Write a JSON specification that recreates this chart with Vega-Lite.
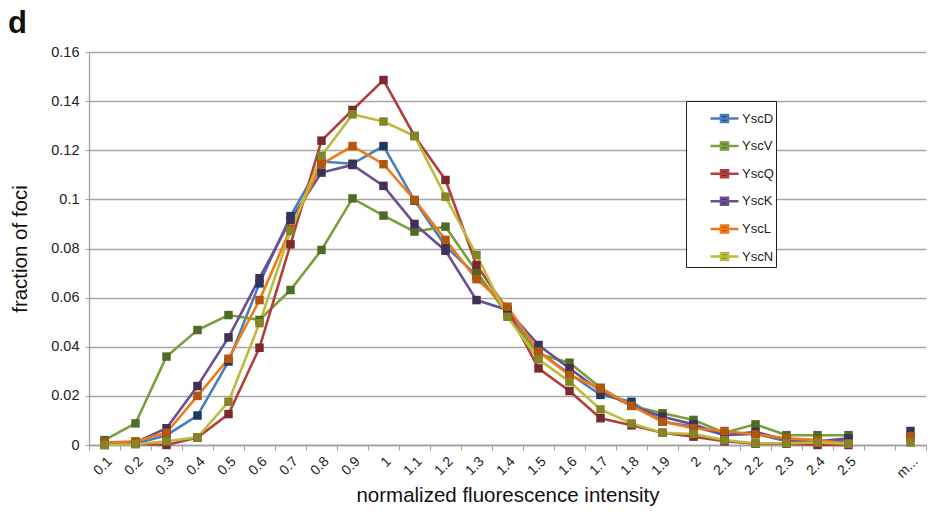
{
  "$schema": "https://vega.github.io/schema/vega-lite/v6.json",
  "width": 837,
  "height": 393,
  "autosize": {"type": "none"},
  "padding": {"left": 89, "top": 52, "right": 7, "bottom": 71},
  "background": "white",
  "title": {"text": "d", "anchor": "start", "frame": "group", "dx": -81, "dy": 37, "offset": 17, "baseline": "alphabetic", "fontSize": 31, "fontWeight": "bold", "font": "Liberation Sans", "color": "#111"},
  "config": {
    "view": {"stroke": null},
    "font": "Liberation Sans",
    "legend": {"orient": "none", "legendX": 597, "legendY": 49, "strokeColor": "#222", "fillColor": "#ffffff", "padding": 2, "labelFontSize": 13, "labelColor": "#222", "rowPadding": 3.6, "symbolOffset": 21, "labelOffset": 2}
  },
  "data": {"values": [
    {"x":"0.1","s":"YscD","y":0.0005},{"x":"0.1","s":"YscV","y":0.002},{"x":"0.1","s":"YscQ","y":0.0},{"x":"0.1","s":"YscK","y":0.0008},{"x":"0.1","s":"YscL","y":0.001},{"x":"0.1","s":"YscN","y":0.0},
    {"x":"0.2","s":"YscD","y":0.0005},{"x":"0.2","s":"YscV","y":0.0088},{"x":"0.2","s":"YscQ","y":0.0005},{"x":"0.2","s":"YscK","y":0.001},{"x":"0.2","s":"YscL","y":0.0015},{"x":"0.2","s":"YscN","y":0.0003},
    {"x":"0.3","s":"YscD","y":0.004},{"x":"0.3","s":"YscV","y":0.036},{"x":"0.3","s":"YscQ","y":0.0},{"x":"0.3","s":"YscK","y":0.0068},{"x":"0.3","s":"YscL","y":0.005},{"x":"0.3","s":"YscN","y":0.0015},
    {"x":"0.4","s":"YscD","y":0.012},{"x":"0.4","s":"YscV","y":0.0468},{"x":"0.4","s":"YscQ","y":0.003},{"x":"0.4","s":"YscK","y":0.024},{"x":"0.4","s":"YscL","y":0.02},{"x":"0.4","s":"YscN","y":0.0031},
    {"x":"0.5","s":"YscD","y":0.034},{"x":"0.5","s":"YscV","y":0.0529},{"x":"0.5","s":"YscQ","y":0.0126},{"x":"0.5","s":"YscK","y":0.0438},{"x":"0.5","s":"YscL","y":0.0351},{"x":"0.5","s":"YscN","y":0.0176},
    {"x":"0.6","s":"YscD","y":0.0658},{"x":"0.6","s":"YscV","y":0.0509},{"x":"0.6","s":"YscQ","y":0.0396},{"x":"0.6","s":"YscK","y":0.0679},{"x":"0.6","s":"YscL","y":0.059},{"x":"0.6","s":"YscN","y":0.0496},
    {"x":"0.7","s":"YscD","y":0.0932},{"x":"0.7","s":"YscV","y":0.0631},{"x":"0.7","s":"YscQ","y":0.0817},{"x":"0.7","s":"YscK","y":0.0916},{"x":"0.7","s":"YscL","y":0.088},{"x":"0.7","s":"YscN","y":0.0871},
    {"x":"0.8","s":"YscD","y":0.1154},{"x":"0.8","s":"YscV","y":0.0794},{"x":"0.8","s":"YscQ","y":0.1239},{"x":"0.8","s":"YscK","y":0.1109},{"x":"0.8","s":"YscL","y":0.1143},{"x":"0.8","s":"YscN","y":0.1177},
    {"x":"0.9","s":"YscD","y":0.1145},{"x":"0.9","s":"YscV","y":0.1004},{"x":"0.9","s":"YscQ","y":0.1364},{"x":"0.9","s":"YscK","y":0.114},{"x":"0.9","s":"YscL","y":0.1217},{"x":"0.9","s":"YscN","y":0.1346},
    {"x":"1","s":"YscD","y":0.1217},{"x":"1","s":"YscV","y":0.0934},{"x":"1","s":"YscQ","y":0.1486},{"x":"1","s":"YscK","y":0.1055},{"x":"1","s":"YscL","y":0.1143},{"x":"1","s":"YscN","y":0.1317},
    {"x":"1.1","s":"YscD","y":0.0995},{"x":"1.1","s":"YscV","y":0.0869},{"x":"1.1","s":"YscQ","y":0.1258},{"x":"1.1","s":"YscK","y":0.09},{"x":"1.1","s":"YscL","y":0.0998},{"x":"1.1","s":"YscN","y":0.1258},
    {"x":"1.2","s":"YscD","y":0.081},{"x":"1.2","s":"YscV","y":0.0889},{"x":"1.2","s":"YscQ","y":0.1079},{"x":"1.2","s":"YscK","y":0.0791},{"x":"1.2","s":"YscL","y":0.0835},{"x":"1.2","s":"YscN","y":0.1011},
    {"x":"1.3","s":"YscD","y":0.069},{"x":"1.3","s":"YscV","y":0.0706},{"x":"1.3","s":"YscQ","y":0.0733},{"x":"1.3","s":"YscK","y":0.059},{"x":"1.3","s":"YscL","y":0.0675},{"x":"1.3","s":"YscN","y":0.0774},
    {"x":"1.4","s":"YscD","y":0.055},{"x":"1.4","s":"YscV","y":0.053},{"x":"1.4","s":"YscQ","y":0.055},{"x":"1.4","s":"YscK","y":0.055},{"x":"1.4","s":"YscL","y":0.0563},{"x":"1.4","s":"YscN","y":0.0522},
    {"x":"1.5","s":"YscD","y":0.038},{"x":"1.5","s":"YscV","y":0.037},{"x":"1.5","s":"YscQ","y":0.0312},{"x":"1.5","s":"YscK","y":0.0407},{"x":"1.5","s":"YscL","y":0.038},{"x":"1.5","s":"YscN","y":0.0349},
    {"x":"1.6","s":"YscD","y":0.029},{"x":"1.6","s":"YscV","y":0.0335},{"x":"1.6","s":"YscQ","y":0.022},{"x":"1.6","s":"YscK","y":0.0312},{"x":"1.6","s":"YscL","y":0.0285},{"x":"1.6","s":"YscN","y":0.0258},
    {"x":"1.7","s":"YscD","y":0.0204},{"x":"1.7","s":"YscV","y":0.0233},{"x":"1.7","s":"YscQ","y":0.0109},{"x":"1.7","s":"YscK","y":0.022},{"x":"1.7","s":"YscL","y":0.023},{"x":"1.7","s":"YscN","y":0.0145},
    {"x":"1.8","s":"YscD","y":0.0176},{"x":"1.8","s":"YscV","y":0.016},{"x":"1.8","s":"YscQ","y":0.008},{"x":"1.8","s":"YscK","y":0.016},{"x":"1.8","s":"YscL","y":0.0159},{"x":"1.8","s":"YscN","y":0.0088},
    {"x":"1.9","s":"YscD","y":0.0095},{"x":"1.9","s":"YscV","y":0.0129},{"x":"1.9","s":"YscQ","y":0.005},{"x":"1.9","s":"YscK","y":0.0115},{"x":"1.9","s":"YscL","y":0.0095},{"x":"1.9","s":"YscN","y":0.005},
    {"x":"2","s":"YscD","y":0.0075},{"x":"2","s":"YscV","y":0.0102},{"x":"2","s":"YscQ","y":0.0034},{"x":"2","s":"YscK","y":0.0084},{"x":"2","s":"YscL","y":0.0068},{"x":"2","s":"YscN","y":0.0045},
    {"x":"2.1","s":"YscD","y":0.004},{"x":"2.1","s":"YscV","y":0.005},{"x":"2.1","s":"YscQ","y":0.0015},{"x":"2.1","s":"YscK","y":0.004},{"x":"2.1","s":"YscL","y":0.0057},{"x":"2.1","s":"YscN","y":0.002},
    {"x":"2.2","s":"YscD","y":0.0045},{"x":"2.2","s":"YscV","y":0.0084},{"x":"2.2","s":"YscQ","y":0.0005},{"x":"2.2","s":"YscK","y":0.0054},{"x":"2.2","s":"YscL","y":0.0043},{"x":"2.2","s":"YscN","y":0.0007},
    {"x":"2.3","s":"YscD","y":0.0015},{"x":"2.3","s":"YscV","y":0.004},{"x":"2.3","s":"YscQ","y":0.0005},{"x":"2.3","s":"YscK","y":0.002},{"x":"2.3","s":"YscL","y":0.0027},{"x":"2.3","s":"YscN","y":0.0007},
    {"x":"2.4","s":"YscD","y":0.001},{"x":"2.4","s":"YscV","y":0.004},{"x":"2.4","s":"YscQ","y":0.0},{"x":"2.4","s":"YscK","y":0.0015},{"x":"2.4","s":"YscL","y":0.002},{"x":"2.4","s":"YscN","y":0.001},
    {"x":"2.5","s":"YscD","y":0.002},{"x":"2.5","s":"YscV","y":0.004},{"x":"2.5","s":"YscQ","y":0.0},{"x":"2.5","s":"YscK","y":0.0027},{"x":"2.5","s":"YscL","y":0.0005},{"x":"2.5","s":"YscN","y":0.0005},
    {"x":"m...","s":"YscD","y":0.003},{"x":"m...","s":"YscV","y":0.003},{"x":"m...","s":"YscQ","y":0.0035},{"x":"m...","s":"YscK","y":0.0057},{"x":"m...","s":"YscL","y":0.0035},{"x":"m...","s":"YscN","y":0.001}
  ]},
  "encoding": {
    "x": {"field": "x", "type": "ordinal",
      "scale": {"domain": ["0.1","0.2","0.3","0.4","0.5","0.6","0.7","0.8","0.9","1","1.1","1.2","1.3","1.4","1.5","1.6","1.7","1.8","1.9","2","2.1","2.2","2.3","2.4","2.5"," ","m..."], "paddingInner": 0, "paddingOuter": 0},
      "axis": {"title": "normalized fluorescence intensity", "labelAngle": -45, "tickBand": "extent", "tickSize": 5, "domainColor": "#a0a0a0", "tickColor": "#a0a0a0", "domainWidth": 1.3, "labelFontSize": 14, "labelColor": "#222", "titleFontSize": 20.5, "titleFontWeight": "normal", "titleColor": "#111", "titlePadding": 5, "labelPadding": 4, "grid": false}},
    "y": {"field": "y", "type": "quantitative",
      "scale": {"domain": [0, 0.16], "nice": false},
      "axis": {"title": "fraction of foci", "values": [0,0.02,0.04,0.06,0.08,0.1,0.12,0.14,0.16], "format": "~g", "grid": true, "gridColor": "#a6a6a6", "gridWidth": 1.3, "domainColor": "#a0a0a0", "domainWidth": 1.3, "tickColor": "#a0a0a0", "tickSize": 4, "labelPadding": 6, "labelFontSize": 14.5, "labelColor": "#222", "titleFontSize": 20.5, "titleFontWeight": "normal", "titleColor": "#111", "titlePadding": 20}}
  },
  "layer": [
    {
      "transform": [{"filter": "datum.x !== 'm...'"}],
      "mark": {"type": "line", "strokeWidth": 2.6},
      "encoding": {
        "stroke": {"field": "s", "type": "nominal",
          "scale": {"domain": ["YscD","YscV","YscQ","YscK","YscL","YscN"], "range": ["#4a7ebb","#77a03b","#b0403d","#6b4f92","#f07a1a","#bcbc3c"]},
          "legend": {"title": null, "symbolType": "M-1,0H1M-0.25,-0.25H0.25V0.25H-0.25Z", "symbolSize": 784, "symbolStrokeWidth": 2.5, "labelExpr": "datum.label + '       '"}}
      }
    },
    {
      "mark": {"type": "point", "shape": "square", "filled": true, "size": 72, "opacity": 1},
      "encoding": {
        "fill": {"field": "s", "type": "nominal",
          "scale": {"domain": ["YscD","YscV","YscQ","YscK","YscL","YscN"], "range": ["#1f3a60","#4f6b28","#7a2a2a","#3f3157","#b3560f","#858528"]},
          "legend": {"title": null, "symbolType": "M-1,0H1M-0.25,-0.25H0.25V0.25H-0.25Z", "symbolSize": 784, "symbolStrokeWidth": 2.5, "labelExpr": "datum.label + '       '"}}
      }
    }
  ]
}
